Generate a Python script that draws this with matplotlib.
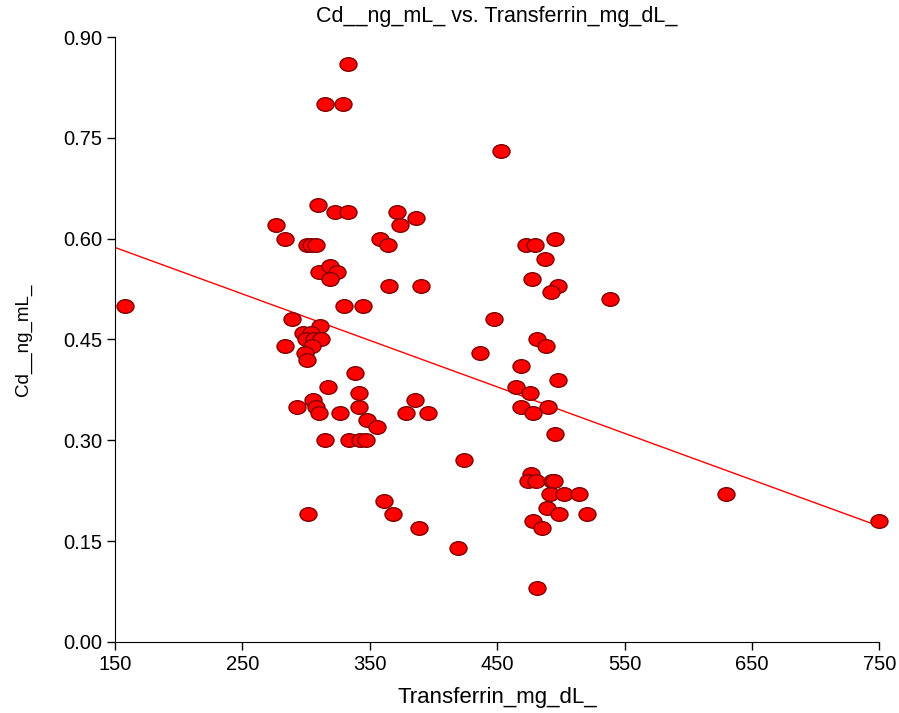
import numpy as np
import matplotlib
matplotlib.use("Agg")
import matplotlib.pyplot as plt
from matplotlib.path import Path

plt.rcParams['font.family'] = ['Liberation Sans', 'DejaVu Sans']

transferrin = [158, 333, 315, 329, 453, 276, 283.5, 309, 323, 333,
               301, 303.5, 308, 310, 319, 324, 319, 371, 386, 374,
               358, 364, 365, 390, 330, 344.5, 289, 311, 297.5, 304,
               300, 306.5, 312, 305, 283.5, 299, 300.5, 338.5, 317, 341.5,
               305.5, 292.5, 308, 310.5, 326.5, 341.5, 348, 355.5, 315, 334,
               342.5, 347, 385.5, 378.5, 395.5, 361.5, 368.5, 388.5, 301.5,
               473, 480, 495.5, 487.5, 477.5, 497.5, 492.5, 447.5, 481.5, 488.5,
               436.5, 468.5, 497.5, 465, 476, 469, 490, 478, 495.5, 424,
               476.5, 474, 480.5, 493, 495, 491.5, 502.5, 514, 489.5, 498.5,
               478.5, 485, 419.5, 481.5, 520.5, 539, 630, 750]
cd = [0.50, 0.86, 0.80, 0.80, 0.73, 0.62, 0.60, 0.65, 0.64, 0.64,
      0.59, 0.59, 0.59, 0.55, 0.56, 0.55, 0.54, 0.64, 0.63, 0.62,
      0.60, 0.59, 0.53, 0.53, 0.50, 0.50, 0.48, 0.47, 0.46, 0.46,
      0.45, 0.45, 0.45, 0.44, 0.44, 0.43, 0.42, 0.40, 0.38, 0.37,
      0.36, 0.35, 0.35, 0.34, 0.34, 0.35, 0.33, 0.32, 0.30, 0.30,
      0.30, 0.30, 0.36, 0.34, 0.34, 0.21, 0.19, 0.17, 0.19,
      0.59, 0.59, 0.60, 0.57, 0.54, 0.53, 0.52, 0.48, 0.45, 0.44,
      0.43, 0.41, 0.39, 0.38, 0.37, 0.35, 0.35, 0.34, 0.31, 0.27,
      0.25, 0.24, 0.24, 0.24, 0.24, 0.22, 0.22, 0.22, 0.20, 0.19,
      0.18, 0.17, 0.14, 0.08, 0.19, 0.51, 0.22, 0.18]

x_ticks = [150, 250, 350, 450, 550, 650, 750]
y_ticks = [0.00, 0.15, 0.30, 0.45, 0.60, 0.75, 0.90]

fig = plt.figure(figsize=(8.99, 7.13), dpi=100)
ax = fig.add_axes([0.128, 0.0996, 0.850, 0.8485])

circ = Path.unit_circle()
ell = Path(circ.vertices * np.array([1.0, 0.8]), circ.codes)

x = np.array(transferrin)
y = np.array(cd)
slope, intercept = np.polyfit(x, y, 1)
xl = np.array([150, 750])
ax.plot(xl, slope * xl + intercept, color='red', lw=1.0, zorder=2)

ax.scatter(x, y, marker=ell, s=150, facecolor='#ff0000', edgecolor='#800000',
           linewidth=1.0, zorder=3, clip_on=False)

ax.set_xlim(150, 750)
ax.set_ylim(0, 0.90)
ax.set_xticks(x_ticks)
ax.set_yticks(y_ticks)
ax.set_yticklabels([f"{v:.2f}" for v in y_ticks])
ax.tick_params(direction='out', length=6, width=1, labelsize=14.5, color='black')
ax.spines['top'].set_visible(False)
ax.spines['right'].set_visible(False)
ax.set_xlabel('Transferrin_mg_dL_', fontsize=16, labelpad=9)
ax.set_ylabel('Cd__ng_mL_', fontsize=13.5, labelpad=22)
ax.set_title('Cd__ng_mL_ vs. Transferrin_mg_dL_', fontsize=15.5, pad=11)

fig.savefig('out.png', dpi=100)
